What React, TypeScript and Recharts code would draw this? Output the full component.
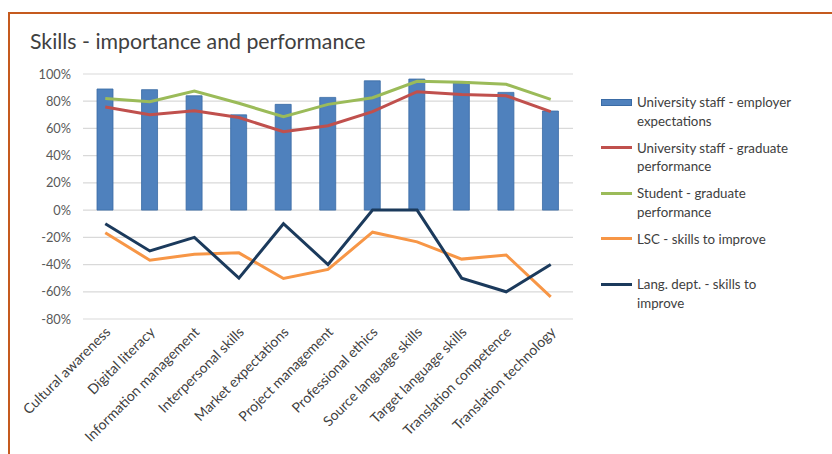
import { Bar, CartesianGrid, ComposedChart, Line, XAxis, YAxis } from "recharts";

const skills = [
  "Cultural awareness",
  "Digital literacy",
  "Information management",
  "Interpersonal skills",
  "Market expectations",
  "Project management",
  "Professional ethics",
  "Source language skills",
  "Target language skills",
  "Translation competence",
  "Translation technology",
];

const staffExpectations = [89, 88.5, 84, 70, 77.7, 82.8, 95, 96.3, 94.5, 86.5, 72.8];
const staffPerformance = [75.7, 70, 73, 68, 57.6, 62, 72.3, 87, 85, 84, 72.3];
const studentPerformance = [82, 79.7, 87.5, 78.5, 68.6, 77.7, 82.6, 94.6, 93.9, 92.4, 81.4];
const lscImprove = [-16.7, -36.8, -32.4, -31.4, -50.2, -43.6, -16.2, -23.3, -36, -33, -63.7];
const langImprove = [-10, -30, -20, -50, -10, -40, 0, 0, -50, -60, -40];

const yTicks = [-80, -60, -40, -20, 0, 20, 40, 60, 80, 100];

const seriesInfo = [
  { key: "staffExp", name: "University staff - employer\nexpectations", color: "#4F81BD", type: "rect" },
  { key: "staffPerf", name: "University staff - graduate\nperformance", color: "#C0504D", type: "line" },
  { key: "studentPerf", name: "Student - graduate\nperformance", color: "#9BBB59", type: "line" },
  { key: "lsc", name: "LSC - skills to improve", color: "#F79646", type: "line" },
  { key: "lang", name: "Lang. dept. - skills to\nimprove", color: "#1B3A5C", type: "line" },
];

const data = skills.map((s, i) => ({
  skill: s,
  staffExp: staffExpectations[i],
  staffPerf: staffPerformance[i],
  studentPerf: studentPerformance[i],
  lsc: lscImprove[i],
  lang: langImprove[i],
}));

const FONT = "Lato, 'Open Sans', sans-serif";

const YTick = (props: any) => {
  const { y, payload } = props;
  return (
    <text x={71} y={y} dy={4.5} textAnchor="end" fontSize={12.8} fill="#595959" fontFamily={FONT}>
      {`${payload.value}%`}
    </text>
  );
};

const XTick = (props: any) => {
  const { x, y, payload } = props;
  const tx = x + 6;
  const ty = y + 6;
  return (
    <text x={tx} y={ty} textAnchor="end" fontSize={14} fill="#404040" fontFamily={FONT} transform={`rotate(-45, ${tx}, ${ty})`}>
      {payload.value}
    </text>
  );
};

const LegendBox = () => (
  <div style={{ position: "absolute", left: 601, top: 93, width: 225, fontFamily: FONT, fontSize: 13.3, color: "#404040" }}>
    {seriesInfo.map((s) => (
      <div key={s.key} style={{ height: 45.5, display: "flex", alignItems: "flex-start" }}>
        <div style={{ width: 31, height: 18.5, display: "flex", alignItems: "center", marginRight: 5 }}>
          <div
            style={{
              width: 31,
              height: s.type === "rect" ? 7 : 3,
              background: s.color,
              border: s.type === "rect" ? "1px solid #3A6BA5" : "none",
              boxSizing: "border-box",
            }}
          />
        </div>
        <div style={{ whiteSpace: "pre-line", lineHeight: "18.5px" }}>{s.name}</div>
      </div>
    ))}
  </div>
);

export default function App() {
  return (
    <div style={{ position: "absolute", left: 0, top: 0, width: 832, height: 454, background: "#fff", overflow: "hidden" }}>
      <div
        style={{
          position: "absolute",
          left: 8,
          top: 12,
          width: 840,
          height: 460,
          border: "2px solid #C55A1E",
          boxSizing: "border-box",
        }}
      />
      <div
        style={{
          position: "absolute",
          left: 30,
          top: 27,
          fontFamily: FONT,
          fontSize: 21.3,
          color: "#404040",
          lineHeight: "28px",
        }}
      >
        Skills - importance and performance
      </div>
      <div style={{ position: "absolute", left: 0, top: 0 }}>
        <ComposedChart width={832} height={454} data={data} margin={{ top: 74, right: 259, bottom: 0, left: 23 }}>
          <CartesianGrid vertical={false} stroke="#D9D9D9" strokeWidth={1.2} />
          <XAxis
            dataKey="skill"
            interval={0}
            height={135}
            axisLine={false}
            tickLine={false}
            tick={<XTick />}
          />
          <YAxis
            width={60}
            domain={[-80, 100]}
            ticks={yTicks}
            axisLine={false}
            tickLine={false}
            tick={<YTick />}
          />
          <Bar dataKey="staffExp" name={seriesInfo[0].name} fill="#4F81BD" stroke="#3A6BA5" strokeWidth={0.8} barSize={16} isAnimationActive={false} />
          <Line dataKey="staffPerf" name={seriesInfo[1].name} stroke="#C0504D" strokeWidth={3} dot={false} type="linear" isAnimationActive={false} />
          <Line dataKey="studentPerf" name={seriesInfo[2].name} stroke="#9BBB59" strokeWidth={3} dot={false} type="linear" isAnimationActive={false} />
          <Line dataKey="lsc" name={seriesInfo[3].name} stroke="#F79646" strokeWidth={3} dot={false} type="linear" isAnimationActive={false} />
          <Line dataKey="lang" name={seriesInfo[4].name} stroke="#1B3A5C" strokeWidth={3} dot={false} type="linear" isAnimationActive={false} />
        </ComposedChart>
      </div>
      <LegendBox />
    </div>
  );
}
